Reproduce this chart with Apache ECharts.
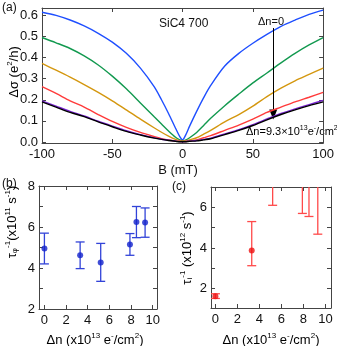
<!DOCTYPE html>
<html>
<head>
<meta charset="utf-8">
<script src="https://cdn.jsdelivr.net/npm/echarts@6/dist/echarts.min.js"></script>
<style>
  html, body { margin: 0; padding: 0; background: #fff; }
  #main { width: 337px; height: 346px; }
</style>
</head>
<body>
<div id="main"></div>
<script>
// panel (a): magnetoconductance curves
var bField = [-100, -90, -80, -70, -60, -50, -40, -30, -20, -15, -10, -5, -2, 0, 2, 5, 10, 15, 20, 30, 40, 50, 60, 70, 80, 90, 100]
var blueY = [0.615, 0.60, 0.578, 0.55, 0.515, 0.473, 0.42, 0.35, 0.26, 0.2, 0.135, 0.065, 0.025, 0.01, 0.03, 0.075, 0.145, 0.21, 0.268, 0.36, 0.42, 0.468, 0.51, 0.548, 0.578, 0.605, 0.625]
var greenY = [0.495, 0.47, 0.443, 0.408, 0.365, 0.312, 0.252, 0.185, 0.118, 0.085, 0.052, 0.022, 0.01, 0.005, 0.008, 0.02, 0.045, 0.078, 0.112, 0.172, 0.227, 0.28, 0.327, 0.375, 0.42, 0.46, 0.495]
var orangeY = [0.372, 0.34, 0.307, 0.272, 0.235, 0.195, 0.152, 0.108, 0.066, 0.046, 0.028, 0.012, 0.005, 0.003, 0.005, 0.01, 0.02, 0.037, 0.055, 0.095, 0.13, 0.17, 0.215, 0.255, 0.29, 0.32, 0.35]
var redY = [0.262, 0.23, 0.195, 0.165, 0.13, 0.097, 0.069, 0.045, 0.025, 0.016, 0.009, 0.004, 0.002, 0.002, 0.002, 0.004, 0.01, 0.02, 0.03, 0.055, 0.08, 0.108, 0.14, 0.165, 0.19, 0.212, 0.235]
var purpleY = [0.195, 0.17, 0.145, 0.123, 0.098, 0.075, 0.053, 0.035, 0.019, 0.013, 0.008, 0.004, 0.002, 0.001, 0.002, 0.004, 0.007, 0.012, 0.018, 0.038, 0.058, 0.082, 0.109, 0.135, 0.157, 0.177, 0.197]
var blackY = [0.19, 0.165, 0.14, 0.12, 0.095, 0.072, 0.05, 0.033, 0.018, 0.012, 0.007, 0.003, 0.001, 0.001, 0.001, 0.003, 0.005, 0.01, 0.015, 0.035, 0.055, 0.078, 0.105, 0.13, 0.152, 0.172, 0.19]

// panel (b): dephasing rate
var bDn = [0, 3.3, 5.2, 7.9, 8.5, 9.3]
var bVal = [4.95, 4.62, 4.27, 5.15, 6.25, 6.22]
var bLow = [4.2, 3.97, 3.35, 4.62, 5.48, 5.5]
var bHigh = [5.7, 5.27, 5.2, 5.68, 7.0, 6.93]

// panel (c): intervalley rate (last four centres lie above the frame)
var cDn = [0, 3.3, 5.2, 7.9, 8.5, 9.3]
var cVal = [1.63, 3.88, null, null, null, null]
var cLow = [1.52, 3.13, 6.1, 5.7, 5.55, 4.68]
var cHigh = [1.75, 5.3, 12, 14, 16, 18]

var font = 'Liberation Sans, Arial, sans-serif'
var axisCol = '#444'

function pairs (xs, ys) {
  return xs.map(function (x, i) { return [x, ys[i]] })
}
function bars (xs, lo, hi) {
  return xs.map(function (x, i) { return [x, lo[i], hi[i]] })
}

function errRender (color) {
  return function (params, api) {
    var x = api.value(0)
    var p1 = api.coord([x, api.value(1)])
    var p2 = api.coord([x, api.value(2)])
    var w = 4.5
    var st = { stroke: color, lineWidth: 1.3 }
    return {
      type: 'group',
      children: [
        { type: 'line', shape: { x1: p1[0], y1: p1[1], x2: p2[0], y2: p2[1] }, style: st },
        { type: 'line', shape: { x1: p1[0] - w, y1: p1[1], x2: p1[0] + w, y2: p1[1] }, style: st },
        { type: 'line', shape: { x1: p2[0] - w, y1: p2[1], x2: p2[0] + w, y2: p2[1] }, style: st }
      ]
    }
  }
}

function ticks (vals) {
  return { show: true, inside: true, length: 4, lineStyle: { color: axisCol }, customValues: vals }
}
function labels (vals, fmt) {
  var l = { color: '#111', fontSize: 13, fontFamily: font, margin: 5, customValues: vals }
  if (fmt) l.formatter = fmt
  return l
}

function mkX (grid, opt, top) {
  return Object.assign({
    type: 'value',
    gridIndex: grid,
    position: top ? 'top' : 'bottom',
    axisLine: { show: true, onZero: false, lineStyle: { color: axisCol, width: 1 } },
    axisTick: { show: true, inside: true, length: 4, lineStyle: { color: axisCol } },
    minorTick: { show: false },
    axisLabel: { show: !top, color: '#111', fontSize: 13, fontFamily: font, margin: 5 },
    splitLine: { show: false }
  }, opt)
}
function mkY (grid, opt, right) {
  return Object.assign({
    type: 'value',
    gridIndex: grid,
    position: right ? 'right' : 'left',
    axisLine: { show: true, onZero: false, lineStyle: { color: axisCol, width: 1 } },
    axisTick: { show: true, inside: true, length: 4, lineStyle: { color: axisCol } },
    minorTick: { show: false },
    axisLabel: { show: !right, color: '#111', fontSize: 13, fontFamily: font, margin: 4 },
    splitLine: { show: false }
  }, opt)
}

var rich = {
  m: { fontSize: 13, fontFamily: font, color: '#111', lineHeight: 16 },
  sup: { fontSize: 8, fontFamily: font, color: '#111', verticalAlign: 'top', lineHeight: 16, padding: [0, 0, 8, 0] },
  sub: { fontSize: 8, fontFamily: font, color: '#111', lineHeight: 16, padding: [6, 0, 0, 0] }
}

var chart = echarts.init(document.getElementById('main'))
var lineCols = ['#1f4fff', '#12994f', '#d4970f', '#ff3b3b', '#7a22d6', '#000000']
var curves = [blueY, greenY, orangeY, redY, purpleY, blackY]

var series = curves.map(function (ys, i) {
  return {
    type: 'line',
    xAxisIndex: 0,
    yAxisIndex: 0,
    data: pairs(bField, ys),
    smooth: 0.3,
    showSymbol: false,
    lineStyle: { color: lineCols[i], width: 1.4 },
    z: 2 + i
  }
})
// arrow from Δn=0 down to Δn=9.3
series[0].markLine = {
  silent: true,
  symbol: ['none', 'triangle'],
  symbolSize: [8, 10],
  label: { show: false },
  lineStyle: { color: '#000', width: 1, type: 'solid' },
  data: [[{ coord: [64.5, 0.54] }, { coord: [64.5, 0.13] }]]
}

series.push({
  type: 'custom', xAxisIndex: 2, yAxisIndex: 2, clip: true,
  renderItem: errRender('#3243d8'), data: bars(bDn, bLow, bHigh), z: 3
})
series.push({
  type: 'scatter', xAxisIndex: 2, yAxisIndex: 2,
  data: pairs(bDn, bVal), symbolSize: 6, itemStyle: { color: '#1122cc' }, z: 4
})
series.push({
  type: 'custom', xAxisIndex: 4, yAxisIndex: 4, clip: true,
  renderItem: errRender('#ff4a4a'), data: bars(cDn, cLow, cHigh), z: 3
})
series.push({
  type: 'scatter', xAxisIndex: 4, yAxisIndex: 4, clip: true,
  data: pairs(cDn, cVal), symbolSize: 6, itemStyle: { color: '#ee1111' }, z: 4
})

var aY = [0, 0.1, 0.2, 0.3, 0.4, 0.5, 0.6]
var nX = [0, 2, 4, 6, 8, 10]

var option = {
  animation: false,
  grid: [
    { left: 42, right: 11, top: 8, height: 135 },
    { left: 39, right: 180, top: 186, height: 123 },
    { left: 211, right: 6, top: 187, height: 121 }
  ],
  xAxis: [
    mkX(0, { min: -100, max: 100, interval: 50 }),
    mkX(0, { min: -100, max: 100, interval: 50 }, true),
    mkX(1, { min: -0.5, max: 10.4, axisLabel: labels(nX), axisTick: ticks(nX) }),
    mkX(1, { min: -0.5, max: 10.4, axisLabel: { show: false }, axisTick: ticks(nX) }, true),
    mkX(2, { min: -0.4, max: 10.5, axisLabel: labels(nX), axisTick: ticks(nX) }),
    mkX(2, { min: -0.4, max: 10.5, axisLabel: { show: false }, axisTick: ticks(nX) }, true)
  ],
  yAxis: [
    mkY(0, { min: -0.005, max: 0.635, axisLabel: Object.assign(labels(aY, function (v) { return v.toFixed(1) }), { margin: 4 }), axisTick: ticks(aY) }),
    mkY(0, { min: -0.005, max: 0.635, axisTick: ticks(aY) }, true),
    mkY(1, { min: 2, max: 8, axisLabel: Object.assign(labels([2, 4, 6, 8]), { margin: 4 }), axisTick: ticks([2, 3, 4, 5, 6, 7, 8]) }),
    mkY(1, { min: 2, max: 8, axisTick: ticks([2, 3, 4, 5, 6, 7, 8]) }, true),
    mkY(2, { min: 1.05, max: 7, axisLabel: Object.assign(labels([2, 4, 6]), { margin: 4 }), axisTick: ticks([2, 3, 4, 5, 6, 7]) }),
    mkY(2, { min: 1.05, max: 7, axisTick: ticks([2, 3, 4, 5, 6, 7]) }, true)
  ],
  graphic: [
    { type: 'text', x: 2, y: 2, style: { text: '(a)', font: '12px ' + font, fill: '#111' } },
    { type: 'text', x: 2, y: 178, style: { text: '(b)', font: '12px ' + font, fill: '#111' } },
    { type: 'text', x: 172, y: 181, style: { text: '(c)', font: '12px ' + font, fill: '#111' } },
    { type: 'text', x: 159, y: 18, style: { text: 'SiC4 700', font: '12px ' + font, fill: '#111' } },
    { type: 'text', x: 258, y: 16, style: { text: 'Δn=0', font: '11px ' + font, fill: '#111' } },
    { type: 'text', x: 246, y: 125, style: { text: '{s|Δn=9.3×10}{p|13}{s|e}{p|-}{s|/cm}{p|2}', rich: { s: { fontSize: 11, fontFamily: font, color: '#111', lineHeight: 14 }, p: { fontSize: 7, fontFamily: font, color: '#111', lineHeight: 14, padding: [0, 0, 7, 0] } } } },
    { type: 'text', x: 178, y: 170, style: { text: 'B (mT)', font: '13px ' + font, fill: '#111', align: 'center', verticalAlign: 'middle' } },
    { type: 'text', x: 14, y: 72, rotation: Math.PI / 2, style: { text: '{m|Δσ (e}{sup|2}{m|/h)}', rich: rich, align: 'center', verticalAlign: 'middle' } },
    { type: 'text', x: 12, y: 222, rotation: Math.PI / 2, style: { text: '{m|τ}{sub|φ}{sup|-1}{m|(x10}{sup|11}{m| s}{sup|-1}{m|)}', rich: rich, align: 'center', verticalAlign: 'middle' } },
    { type: 'text', x: 187, y: 248, rotation: Math.PI / 2, style: { text: '{m|τ}{sub|i}{sup|-1}{m| (x10}{sup|12}{m| s}{sup|-1}{m|)}', rich: rich, align: 'center', verticalAlign: 'middle' } },
    { type: 'text', x: 95, y: 340, style: { text: '{m|Δn (x10}{sup|13}{m| e}{sup|-}{m|/cm}{sup|2}{m|)}', rich: rich, align: 'center', verticalAlign: 'middle' } },
    { type: 'text', x: 271, y: 340, style: { text: '{m|Δn (x10}{sup|13}{m| e}{sup|-}{m|/cm}{sup|2}{m|)}', rich: rich, align: 'center', verticalAlign: 'middle' } }
  ],
  series: series
}
chart.setOption(option)
</script>
</body>
</html>
